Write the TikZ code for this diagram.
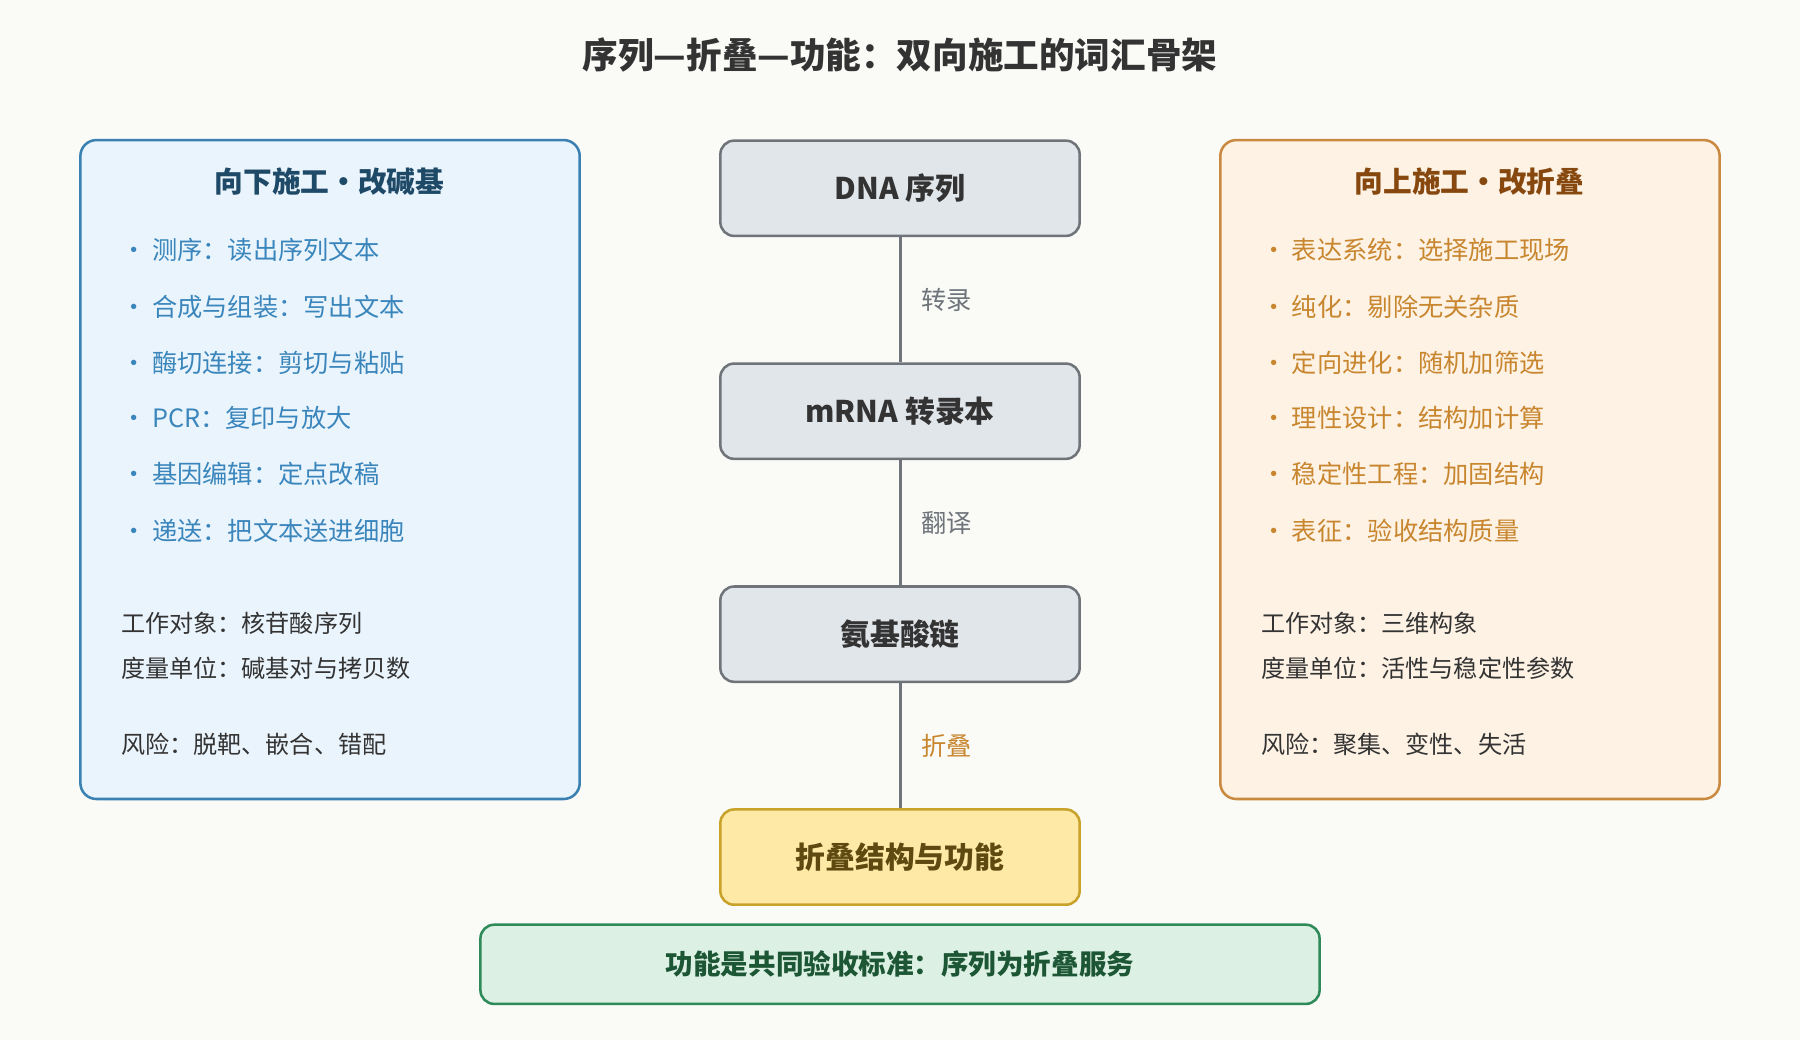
\documentclass[tikz,border=0pt]{standalone}
\usepackage{fontspec}
\setmainfont{Noto Sans CJK SC}
\usetikzlibrary{positioning}
\definecolor{bgcol}{HTML}{FAFAF7}
\definecolor{leftfill}{HTML}{EAF4FC}
\definecolor{leftline}{HTML}{3A80B0}
\definecolor{lefttext}{HTML}{3A86BC}
\definecolor{lefthead}{HTML}{1E4A68}
\definecolor{rightfill}{HTML}{FDF2E4}
\definecolor{rightline}{HTML}{C98A40}
\definecolor{righttext}{HTML}{C8862F}
\definecolor{righthead}{HTML}{86480E}
\definecolor{stepfill}{HTML}{E1E6EA}
\definecolor{stepline}{HTML}{6E747A}
\definecolor{goldfill}{HTML}{FEE9A6}
\definecolor{goldline}{HTML}{C9A22A}
\definecolor{goldtext}{HTML}{5E4A10}
\definecolor{greenfill}{HTML}{DCF1E4}
\definecolor{greenline}{HTML}{2E8A58}
\definecolor{greentext}{HTML}{1C5634}
\definecolor{darktext}{HTML}{333333}
\begin{document}
\begin{tikzpicture}[x=1pt,y=-1pt]

\tikzstyle{panel} = [rounded corners=14pt, line width=2.2pt]
\tikzstyle{stepnode} = [draw=stepline, fill=stepfill, rounded corners=12pt, line width=2.2pt,
  minimum width=313pt, minimum height=83pt, font=\fontsize{26}{30}\selectfont\bfseries, text=darktext]
\tikzstyle{link} = [line width=2.6pt, draw=stepline]
\tikzstyle{linklabel} = [font=\fontsize{22}{26}\selectfont, text=stepline]
\tikzstyle{leftitem} = [anchor=west, font=\fontsize{22}{26}\selectfont, text=lefttext]
\tikzstyle{rightitem} = [anchor=west, font=\fontsize{22}{26}\selectfont, text=righttext]
\tikzstyle{infoitem} = [anchor=west, font=\fontsize{21}{25}\selectfont, text=darktext]

\fill [bgcol] (0,0) rectangle (1568,906);
\node (title) at (784,48) {\fontsize{31}{36}\selectfont\bfseries\color{darktext}序列—折叠—功能：双向施工的词汇骨架};

% left panel
\draw [panel, draw=leftline, fill=leftfill] (70,122) rectangle (505,696);
\node (lhead) at (287,158) {\fontsize{25}{30}\selectfont\bfseries\color{lefthead}向下施工・改碱基};
\node [leftitem] (l1) at (102,218) {· 测序：读出序列文本};
\node [leftitem] (l2) at (102,267) {· 合成与组装：写出文本};
\node [leftitem] (l3) at (102,316) {· 酶切连接：剪切与粘贴};
\node [leftitem] (l4) at (102,364) {· PCR：复印与放大};
\node [leftitem] (l5) at (102,413) {· 基因编辑：定点改稿};
\node [leftitem] (l6) at (102,462) {· 递送：把文本送进细胞};
\node [infoitem] (l7) at (102,543) {工作对象：核苷酸序列};
\node [infoitem] (l8) at (102,582) {度量单位：碱基对与拷贝数};
\node [infoitem] (l9) at (102,648) {风险：脱靶、嵌合、错配};

% right panel
\draw [panel, draw=rightline, fill=rightfill] (1063,122) rectangle (1498,696);
\node (rhead) at (1280,158) {\fontsize{25}{30}\selectfont\bfseries\color{righthead}向上施工・改折叠};
\node [rightitem] (r1) at (1095,218) {· 表达系统：选择施工现场};
\node [rightitem] (r2) at (1095,267) {· 纯化：剔除无关杂质};
\node [rightitem] (r3) at (1095,316) {· 定向进化：随机加筛选};
\node [rightitem] (r4) at (1095,364) {· 理性设计：结构加计算};
\node [rightitem] (r5) at (1095,413) {· 稳定性工程：加固结构};
\node [rightitem] (r6) at (1095,462) {· 表征：验收结构质量};
\node [infoitem] (r7) at (1095,543) {工作对象：三维构象};
\node [infoitem] (r8) at (1095,582) {度量单位：活性与稳定性参数};
\node [infoitem] (r9) at (1095,648) {风险：聚集、变性、失活};

% central chain
\node [stepnode] (dna) at (784,164) {DNA 序列};
\node [stepnode, below=109pt of dna] (mrna) {mRNA 转录本};
\node [stepnode, below=109pt of mrna] (chain) {氨基酸链};
\node [stepnode, below=109pt of chain, draw=goldline, fill=goldfill, text=goldtext] (fold) {折叠结构与功能};
\draw [link] (dna) -- node [linklabel, right=14pt] {转录} (mrna);
\draw [link] (mrna) -- node [linklabel, right=14pt] {翻译} (chain);
\draw [link] (chain) -- node [linklabel, right=14pt, text=righttext] {折叠} (fold);

% bottom banner
\node [draw=greenline, fill=greenfill, rounded corners=12pt, line width=2.2pt,
  minimum width=731pt, minimum height=69pt, font=\fontsize{24}{28}\selectfont\bfseries,
  text=greentext] (goal) at (784,840) {功能是共同验收标准：序列为折叠服务};

\end{tikzpicture}
\end{document}
